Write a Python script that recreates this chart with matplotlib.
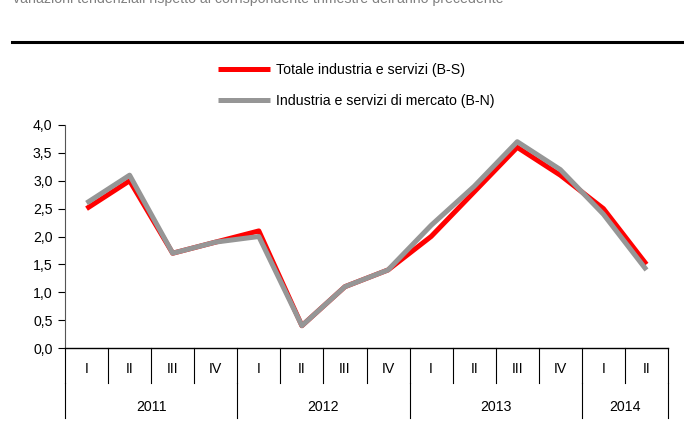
import numpy as np
import matplotlib
matplotlib.use("Agg")
import matplotlib.pyplot as plt
from matplotlib.lines import Line2D
import matplotlib.transforms as mtransforms

plt.rcParams['font.family'] = ['Liberation Sans', 'DejaVu Sans']
plt.rcParams['font.size'] = 10

# data
quarters = ["I", "II", "III", "IV", "I", "II", "III", "IV",
            "I", "II", "III", "IV", "I", "II"]
years = ["2011", "2012", "2013", "2014"]
year_len = [4, 4, 4, 2]
totale_bs = [2.5, 3.0, 1.7, 1.9, 2.1, 0.4, 1.1, 1.4, 2.0, 2.8, 3.6, 3.1, 2.5, 1.5]
mercato_bn = [2.6, 3.1, 1.7, 1.9, 2.0, 0.4, 1.1, 1.4, 2.2, 2.9, 3.7, 3.2, 2.4, 1.4]
yticks = [0.0, 0.5, 1.0, 1.5, 2.0, 2.5, 3.0, 3.5, 4.0]

W, H = 684, 430
fig = plt.figure(figsize=(W / 100, H / 100), dpi=100)
ax = fig.add_axes([65 / W, (H - 348) / H, (668 - 65) / W, (348 - 125) / H])

x = np.arange(len(quarters))
ax.plot(x, totale_bs, color="#ff0000", lw=3.6, solid_capstyle="butt",
        label="Totale industria e servizi (B-S)", zorder=3)
ax.plot(x, mercato_bn, color="#969696", lw=3.6, solid_capstyle="butt",
        label="Industria e servizi di mercato (B-N)", zorder=4)

ax.set_xlim(-0.5, len(quarters) - 0.5)
ax.set_ylim(0, 4)
ax.set_yticks(yticks)
ax.set_yticklabels([f"{v:.1f}".replace(".", ",") for v in yticks], fontsize=10.2)
ax.tick_params(axis="y", length=5, width=0.8, pad=4, colors="black")
ax.set_xticks([])
ax.spines["top"].set_visible(False)
ax.spines["right"].set_visible(False)
ax.spines["left"].set_color("#555555")
ax.spines["bottom"].set_linewidth(1.0)

# category axis: quarter separators and labels, year separators and labels
trans = mtransforms.blended_transform_factory(ax.transData, ax.transAxes)
for i in range(len(quarters) + 1):
    ax.plot([i - 0.5, i - 0.5], [0, -0.157], transform=trans, color="black",
            lw=0.8, clip_on=False)
for i, q in enumerate(quarters):
    ax.text(i, -0.094, q, transform=trans, ha="center", va="center", fontsize=10.2)
start = 0
for y_lab, n in zip(years, year_len):
    ax.plot([start - 0.5, start - 0.5], [-0.157, -0.314], transform=trans,
            color="black", lw=0.8, clip_on=False)
    ax.text(start + n / 2 - 0.5, -0.265, y_lab, transform=trans,
            ha="center", va="center", fontsize=10.2)
    start += n
ax.plot([start - 0.5, start - 0.5], [-0.157, -0.314], transform=trans,
        color="black", lw=0.8, clip_on=False)

fig.legend(loc="upper left", bbox_to_anchor=(212 / W, 1 - 57 / H), frameon=False,
           handlelength=3.66, handletextpad=0.45, labelspacing=1.25, fontsize=10.2,
           borderaxespad=0)

# header rule and clipped subtitle
fig.add_artist(Line2D([12 / W, 1], [1 - 42 / H, 1 - 42 / H], color="black", lw=2.2))
fig.text(13 / W, 1 - 3 / H, "variazioni tendenziali rispetto al corrispondente trimestre dell'anno precedente",
         color="#808080", fontsize=10.2, va="baseline", ha="left")

fig.savefig("out.png", dpi=100)
